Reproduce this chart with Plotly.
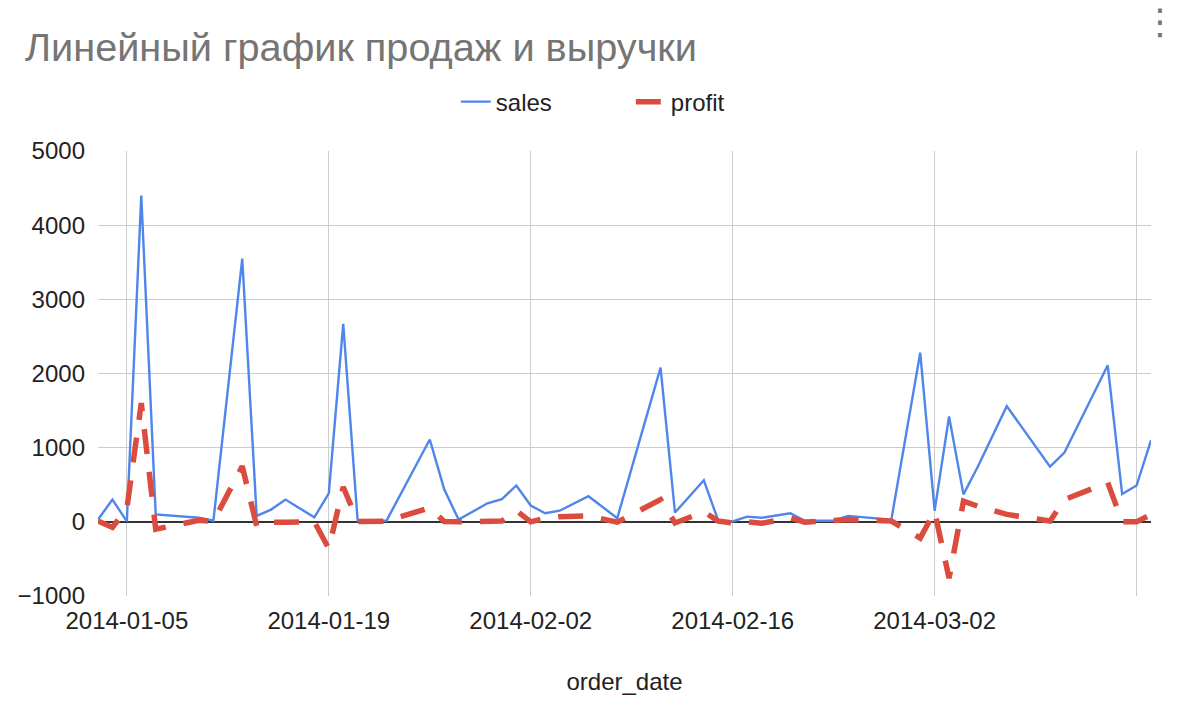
import plotly.graph_objects as go

# ---- data ----
dates = [
    "2014-01-03", "2014-01-04", "2014-01-05", "2014-01-06", "2014-01-07", "2014-01-10",
    "2014-01-11", "2014-01-13", "2014-01-14", "2014-01-15", "2014-01-16", "2014-01-18",
    "2014-01-19", "2014-01-20", "2014-01-21", "2014-01-23", "2014-01-26", "2014-01-27",
    "2014-01-28", "2014-01-30", "2014-01-31", "2014-02-01", "2014-02-02", "2014-02-03",
    "2014-02-04", "2014-02-06", "2014-02-08", "2014-02-11", "2014-02-12", "2014-02-14",
    "2014-02-15", "2014-02-16", "2014-02-17", "2014-02-18", "2014-02-20", "2014-02-21",
    "2014-02-23", "2014-02-24", "2014-02-27", "2014-03-01", "2014-03-02", "2014-03-03",
    "2014-03-04", "2014-03-05", "2014-03-07", "2014-03-10", "2014-03-11", "2014-03-14",
    "2014-03-15", "2014-03-16", "2014-03-17",
]
sales = [
    30, 300, 5, 4400, 100, 55,
    15, 3550, 80, 165, 300, 60,
    385, 2670, 15, 15, 1110, 440,
    30, 250, 305, 490, 220, 115,
    150, 345, 50, 2080, 125, 560,
    15, 5, 70, 55, 115, 15,
    15, 80, 30, 2280, 150, 1420,
    370, 745, 1560, 745, 935, 2110,
    375, 490, 1100,
]
profit = [
    10, -75, 180, 1600, -100, 20,
    5, 750, -55, -5, -5, 0,
    -360, 470, 5, 10, 190, 5,
    0, 0, 10, 150, 0, 50,
    70, 80, -5, 300, -15, 135,
    10, -15, 0, -20, 55, -5,
    10, 30, 10, -220, 140, -760,
    280, 210, 100, 10, 300, 530,
    0, 0, 100,
]

grid_dates = ["2014-01-05", "2014-01-19", "2014-02-02", "2014-02-16", "2014-03-02", "2014-03-16"]
grid_labels = ["2014-01-05", "2014-01-19", "2014-02-02", "2014-02-16", "2014-03-02", ""]
y_ticks = [-1000, 0, 1000, 2000, 3000, 4000, 5000]

FONT = "Liberation Sans, Arial, Helvetica, sans-serif"

fig = go.Figure()
fig.add_trace(go.Scatter(
    x=dates, y=sales, name="sales", mode="lines",
    line=dict(color="#4F86EC", width=2.4),
))
fig.add_trace(go.Scatter(
    x=dates, y=profit, name="profit", mode="lines",
    line=dict(color="#DB4C3F", width=5.5, dash="25px,18px"),
))

fig.update_layout(
    width=1180, height=724, autosize=False,
    margin=dict(l=98, r=29, t=151, b=128),
    paper_bgcolor="white", plot_bgcolor="white",
    font=dict(family=FONT, color="#222222", size=24),
    title=dict(
        text="Линейный график продаж и выручки",
        x=25 / 1180, xref="container", xanchor="left",
        y=1 - 47 / 724, yref="container", yanchor="middle",
        font=dict(family=FONT, size=39.7, color="#757575"),
    ),
    legend=dict(
        orientation="h", x=0.506, xanchor="center",
        y=1 + (151 - 102) / 445.3, yanchor="middle",
        font=dict(family=FONT, size=24, color="#222222"),
        bgcolor="rgba(0,0,0,0)",
        entrywidth=130, entrywidthmode="pixels",
    ),
    showlegend=True,
    xaxis=dict(
        range=["2014-01-03", "2014-03-17"],
        tickmode="array", tickvals=grid_dates, ticktext=grid_labels,
        showgrid=True, gridcolor="#cccccc", gridwidth=1,
        showline=False, zeroline=False, ticks="",
        tickfont=dict(size=24, color="#222222"),
        ticklabelstandoff=8,
        title=dict(text="order_date", font=dict(size=24, color="#222222"), standoff=40),
        automargin=False,
    ),
    yaxis=dict(
        range=[-1000, 5000],
        tickmode="array", tickvals=y_ticks,
        showgrid=True, gridcolor="#cccccc", gridwidth=1,
        showline=False, ticks="",
        zeroline=True, zerolinecolor="#333333", zerolinewidth=1.5,
        tickfont=dict(size=24, color="#222222"),
        ticklabelstandoff=12,
        automargin=False,
    ),
    annotations=[dict(
        text="⋮", xref="paper", yref="paper",
        x=(1160 - 98) / 1053, y=(596 - 21) / 445.3,
        xanchor="center", yanchor="middle", showarrow=False,
        font=dict(size=36, color="#757575", family="DejaVu Sans"),
    )],
)

fig.write_html("out.html", config={"displayModeBar": False},
               post_script="document.body.style.margin='0';")
